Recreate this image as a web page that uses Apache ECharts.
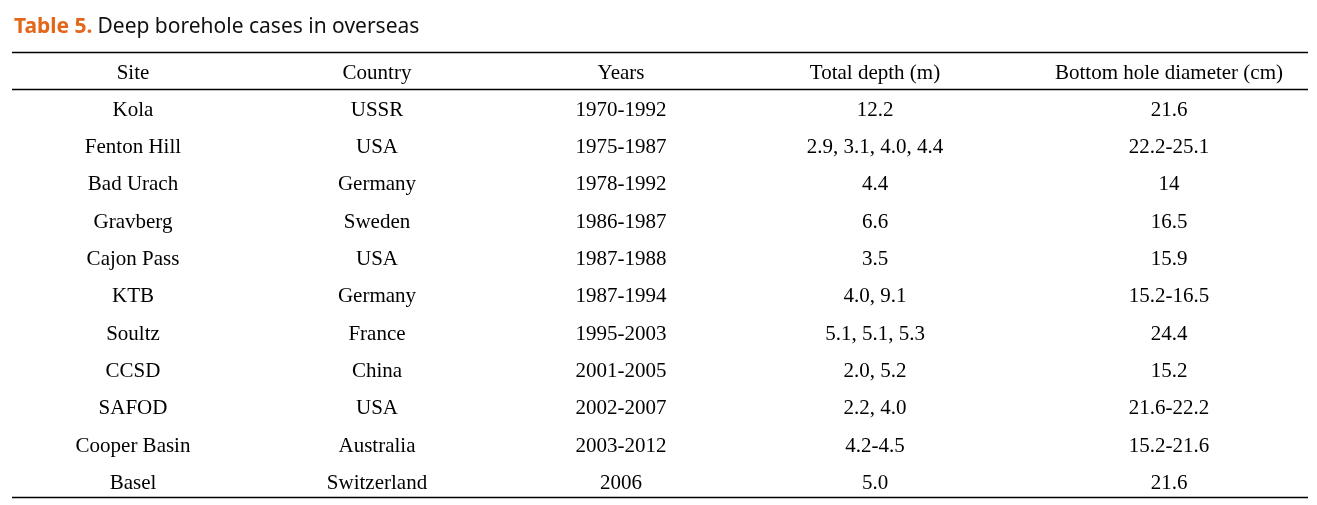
<!DOCTYPE html>
<html>
<head>
<meta charset="utf-8">
<script src="https://cdn.jsdelivr.net/npm/echarts@6/dist/echarts.min.js"></script>
<style>html,body{margin:0;padding:0;background:#fff;}#c{width:1317px;height:505px;}</style>
</head>
<body>
<div id="c"></div>
<script>
// ---- data ----
const headers = ["Site", "Country", "Years", "Total depth (m)", "Bottom hole diameter (cm)"];
const sites = ["Kola", "Fenton Hill", "Bad Urach", "Gravberg", "Cajon Pass", "KTB", "Soultz", "CCSD", "SAFOD", "Cooper Basin", "Basel"];
const countries = ["USSR", "USA", "Germany", "Sweden", "USA", "Germany", "France", "China", "USA", "Australia", "Switzerland"];
const years = ["1970-1992", "1975-1987", "1978-1992", "1986-1987", "1987-1988", "1987-1994", "1995-2003", "2001-2005", "2002-2007", "2003-2012", "2006"];
const totalDepth = ["12.2", "2.9, 3.1, 4.0, 4.4", "4.4", "6.6", "3.5", "4.0, 9.1", "5.1, 5.1, 5.3", "2.0, 5.2", "2.2, 4.0", "4.2-4.5", "5.0"];
const diameter = ["21.6", "22.2-25.1", "14", "16.5", "15.9", "15.2-16.5", "24.4", "15.2", "21.6-22.2", "15.2-21.6", "21.6"];
const titleLabel = "Table 5.";
const titleText = "Deep borehole cases in overseas";

// ---- layout (style only) ----
const columns = [sites, countries, years, totalDepth, diameter];
const colCenters = [133, 377, 621, 875, 1169];
const colWidth = 230;
const tableTop = 91.5, tableHeight = 410.5;
const serif = '"Liberation Serif", "Times New Roman", serif';
const fs = 21;

const grids = [], xAxes = [], yAxes = [], series = [];
columns.forEach((col, ci) => {
  grids.push({ left: colCenters[ci] - colWidth / 2, width: colWidth, top: tableTop, height: tableHeight, containLabel: false });
  xAxes.push({
    gridIndex: ci, type: 'category', position: 'top', data: [headers[ci]],
    axisLine: { show: false }, axisTick: { show: false }, splitLine: { show: false },
    axisLabel: { show: true, margin: 8, color: '#000', fontFamily: serif, fontSize: fs, interval: 0 }
  });
  yAxes.push({
    gridIndex: ci, type: 'category', inverse: true, data: sites,
    axisLine: { show: false }, axisTick: { show: false }, splitLine: { show: false }, axisLabel: { show: false }
  });
  series.push({
    type: 'scatter', xAxisIndex: ci, yAxisIndex: ci, symbolSize: 0, silent: true,
    itemStyle: { opacity: 1 },
    data: col.map((v, i) => [headers[ci], sites[i], v]),
    label: {
      show: true, position: 'inside', color: '#000', opacity: 1, fontFamily: serif, fontSize: fs,
      formatter: p => p.data[2]
    }
  });
});

const chart = echarts.init(document.getElementById('c'), null, { renderer: 'canvas' });
chart.setOption({
  backgroundColor: '#fff',
  animation: false,
  title: {
    left: 9, top: 12,
    text: '{a|' + titleLabel + '} {b|' + titleText + '}',
    textStyle: {
      rich: {
        a: { color: '#E2671B', fontWeight: 'bold', fontSize: 21, fontFamily: '"Noto Sans", sans-serif' },
        b: { color: '#111', fontWeight: 'normal', fontSize: 21, fontFamily: '"Noto Sans", sans-serif' }
      }
    }
  },
  grid: grids,
  xAxis: xAxes,
  yAxis: yAxes,
  series: series,
  graphic: [
    { type: 'line', shape: { x1: 12, y1: 52.5, x2: 1308, y2: 52.5 }, style: { stroke: '#000', lineWidth: 1.3 } },
    { type: 'line', shape: { x1: 12, y1: 89.5, x2: 1308, y2: 89.5 }, style: { stroke: '#000', lineWidth: 1.3 } },
    { type: 'line', shape: { x1: 12, y1: 497.5, x2: 1308, y2: 497.5 }, style: { stroke: '#000', lineWidth: 1.3 } }
  ]
});
</script>
</body>
</html>
